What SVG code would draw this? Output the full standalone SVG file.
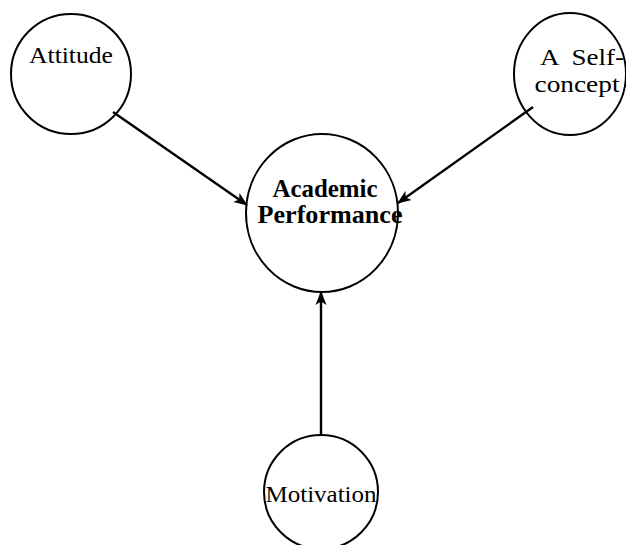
<svg xmlns="http://www.w3.org/2000/svg" width="626" height="545" viewBox="0 0 626 545">
<style>
.n{fill:#fff;stroke:#000;stroke-width:2}
.t{font-family:"Liberation Serif","Times New Roman",serif;font-size:24px;fill:#000;text-anchor:middle}
.b{font-weight:bold;font-size:25px}
.c{stroke:#000;stroke-width:2.4;fill:none;marker-end:url(#ah)}
</style>
<defs>
<marker id="ah" markerWidth="14" markerHeight="12" refX="13" refY="6" orient="auto" markerUnits="userSpaceOnUse">
<path d="M0,0.5 L14,6 L0,11.5 L3.5,6 Z" fill="#000"/>
</marker>
</defs>
<rect width="626" height="545" fill="#fff"/>
<g id="attitude">
<circle class="n" cx="71" cy="74" r="60"/>
<text class="t" x="71" y="63" textLength="84" lengthAdjust="spacingAndGlyphs">Attitude</text>
</g>
<g id="selfconcept">
<ellipse class="n" cx="570" cy="74" rx="56" ry="61"/>
<text class="t" x="582" y="65" textLength="84" lengthAdjust="spacingAndGlyphs" xml:space="preserve">A  Self-</text>
<text class="t" x="577" y="92" textLength="85" lengthAdjust="spacingAndGlyphs">concept</text>
</g>
<g id="academic">
<ellipse class="n" cx="322" cy="213" rx="76" ry="79"/>
<text class="t b" x="325" y="197" textLength="105" lengthAdjust="spacingAndGlyphs">Academic</text>
<text class="t b" x="330" y="223" textLength="145" lengthAdjust="spacingAndGlyphs">Performance</text>
</g>
<g id="motivation">
<circle class="n" cx="321" cy="492" r="57"/>
<text class="t" x="321" y="502" textLength="111" lengthAdjust="spacingAndGlyphs">Motivation</text>
</g>
<g id="connectors">
<line class="c" x1="113" y1="112" x2="247" y2="205"/>
<line class="c" x1="533" y1="107" x2="398" y2="203"/>
<line class="c" x1="321" y1="435" x2="321" y2="292"/>
</g>
</svg>
